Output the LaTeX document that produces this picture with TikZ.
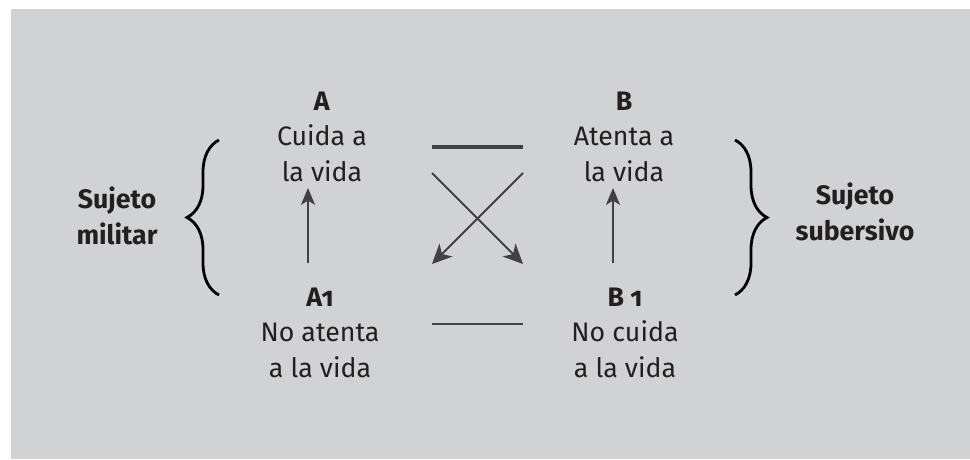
\documentclass[tikz,border=0pt]{standalone}
\usepackage{fontspec}
\setmainfont{Fira Sans}[Numbers=OldStyle]
\usetikzlibrary{arrows.meta,decorations.pathreplacing}

\definecolor{fondo}{HTML}{D1D2D4}
\definecolor{tinta}{HTML}{231F20}
\definecolor{trazo}{HTML}{414042}

\tikzset{
	bloque/.style={align=center, inner sep=0pt, anchor=north, text=tinta, font=\fontsize{19}{25}\selectfont},
	sujeto/.style={bloque, font=\fontsize{19}{25}\selectfont\bfseries},
	flecha/.style={trazo, line width=1pt, -{Stealth[length=12pt, width=10pt, inset=3pt]}},
	cruce/.style={trazo, line width=1.4pt, -{Stealth[length=14pt, width=13pt, inset=4pt]}},
	llave/.style={black, line width=2pt, decorate, decoration={brace, amplitude=0.8cm}}
}

\begin{document}
\begin{tikzpicture}[x=0.025cm, y=-0.025cm]
		\useasboundingbox (0,0) rectangle (970,459);
		\fill[fondo] (11,9) rectangle (970,459);

		\node[bloque] (a) at (322,92) {\textbf{A}\\Cuida a\\la vida};
		\node[bloque] (b) at (624,92) {\textbf{B}\\Atenta a\\la vida};
		\node[bloque] (aone) at (320,288) {\textbf{A1}\\No atenta\\a la vida};
		\node[bloque] (bone) at (625,288) {\textbf{B 1}\\No cuida\\a la vida};

		\node[sujeto] (militar) at (117,187) {Sujeto\\militar};
		\node[sujeto] (subersivo) at (855,183) {Sujeto\\subersivo};

		\coordinate (arribaizq) at (432,147);
		\coordinate (arribader) at (523,147);
		\coordinate (abajoizq) at (432,324);
		\coordinate (abajoder) at (523,324);

		\draw[trazo, line width=2.2pt] (arribaizq) -- (arribader);
		\draw[trazo, line width=1.5pt] (abajoizq) -- (abajoder);

		\draw[cruce] ([yshift=-0.65cm]arribaizq) -- ([yshift=1.5cm]abajoder);
		\draw[cruce] ([yshift=-0.65cm]arribader) -- ([yshift=1.5cm]abajoizq);

		\draw[flecha] ([xshift=-0.3cm]aone.north) ++ (0,-25) -- ++ (0,-75);
		\draw[flecha] ([xshift=-0.3cm]bone.north) ++ (0,-25) -- ++ (0,-75);

		\draw[llave] (219,295) -- (219,140);
		\draw[llave] (735,140) -- (735,295);
	\end{tikzpicture}
\end{document}
